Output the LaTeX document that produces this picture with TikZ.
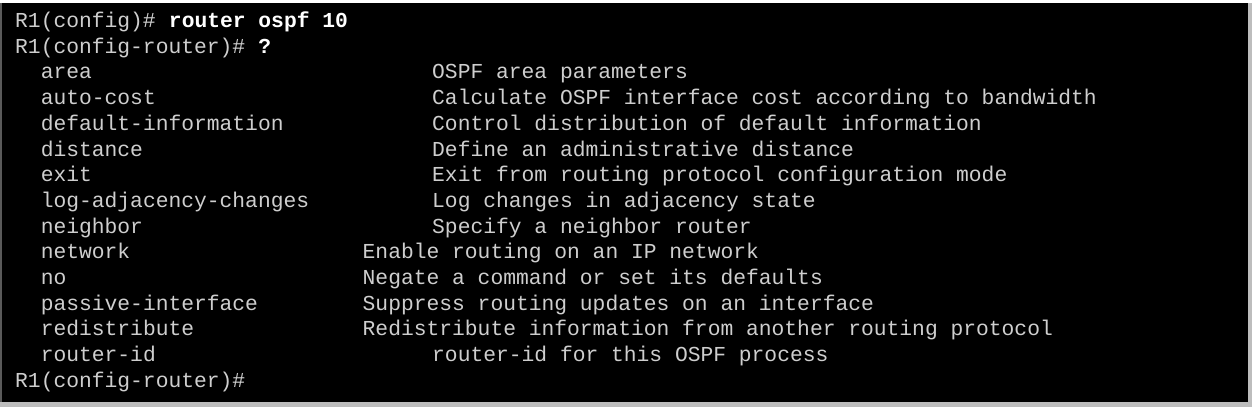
\documentclass[tikz,border=0pt]{standalone}
\usepackage{fontspec}
\setmonofont{Liberation Mono}
\definecolor{termtext}{HTML}{CECECE}
\definecolor{shadowgray}{HTML}{BDBDBD}
\definecolor{edgegray}{HTML}{5A5A5A}
\begin{document}
\begin{tikzpicture}[x=1pt,y=-1pt,
  line/.style={anchor=base west,inner sep=0pt,text=termtext,font=\ttfamily\fontsize{21.3}{24}\selectfont},
  bold/.style={line,text=white,font=\ttfamily\bfseries\fontsize{21.3}{24}\selectfont}]
\useasboundingbox (0,0) rectangle (1252,407);
\fill[white] (0,0) rectangle (1252,407);
\fill[shadowgray] (0,3) rectangle (1252,407);
\fill[edgegray] (0,3) rectangle (2,402);
\fill[black] (2,3) rectangle (1248,402);
\def\cx{15}
\def\ca{432}
\def\cb{362.5}
\node[line] (p1) at (\cx,27.5) {R1(config)\#};
\node[bold,anchor=base west] (c1) at ([xshift=12.78pt]p1.base east) {router ospf 10};
\node[line] (p2) at (\cx,53.2) {R1(config-router)\#};
\node[bold,anchor=base west] (c2) at ([xshift=12.78pt]p2.base east) {?};
\node[line] (k1) at (\cx,78.9) {\ \ area};
\node[line] (d1) at (\ca,78.9) {OSPF area parameters};
\node[line] (k2) at (\cx,104.6) {\ \ auto-cost};
\node[line] (d2) at (\ca,104.6) {Calculate OSPF interface cost according to bandwidth};
\node[line] (k3) at (\cx,130.3) {\ \ default-information};
\node[line] (d3) at (\ca,130.3) {Control distribution of default information};
\node[line] (k4) at (\cx,156.0) {\ \ distance};
\node[line] (d4) at (\ca,156.0) {Define an administrative distance};
\node[line] (k5) at (\cx,181.7) {\ \ exit};
\node[line] (d5) at (\ca,181.7) {Exit from routing protocol configuration mode};
\node[line] (k6) at (\cx,207.4) {\ \ log-adjacency-changes};
\node[line] (d6) at (\ca,207.4) {Log changes in adjacency state};
\node[line] (k7) at (\cx,233.1) {\ \ neighbor};
\node[line] (d7) at (\ca,233.1) {Specify a neighbor router};
\node[line] (k8) at (\cx,258.8) {\ \ network};
\node[line] (d8) at (\cb,258.8) {Enable routing on an IP network};
\node[line] (k9) at (\cx,284.5) {\ \ no};
\node[line] (d9) at (\cb,284.5) {Negate a command or set its defaults};
\node[line] (k10) at (\cx,310.2) {\ \ passive-interface};
\node[line] (d10) at (\cb,310.2) {Suppress routing updates on an interface};
\node[line] (k11) at (\cx,335.9) {\ \ redistribute};
\node[line] (d11) at (\cb,335.9) {Redistribute information from another routing protocol};
\node[line] (k12) at (\cx,361.6) {\ \ router-id};
\node[line] (d12) at (\ca,361.6) {router-id for this OSPF process};
\node[line] (p3) at (\cx,387.3) {R1(config-router)\#};
\end{tikzpicture}
\end{document}
